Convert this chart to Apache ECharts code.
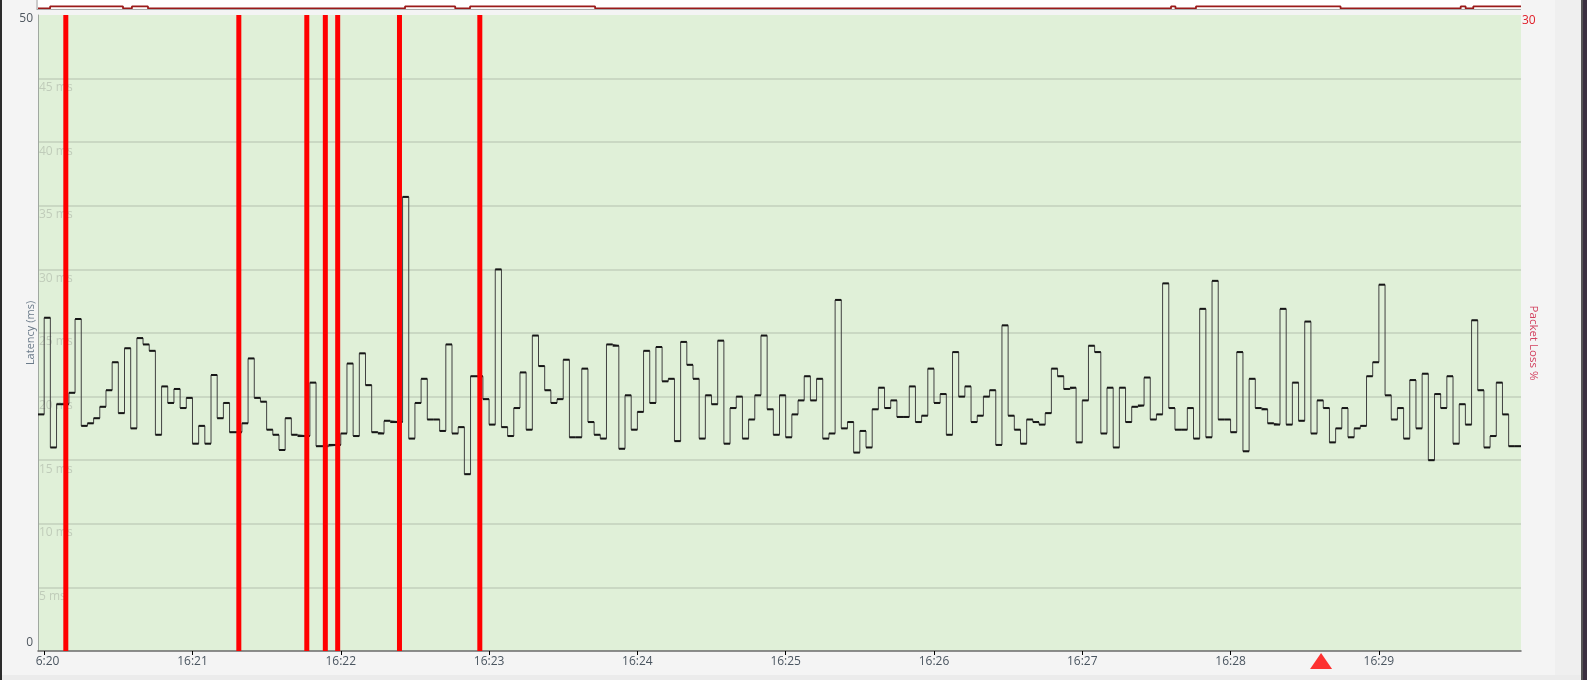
<!DOCTYPE html>
<html>
<head>
<meta charset="utf-8">
<script src="https://cdn.jsdelivr.net/npm/echarts@6/dist/echarts.min.js"></script>
<style>
html,body{margin:0;padding:0;background:#f4f4f4;}
#c{width:1587px;height:680px;}
</style>
</head>
<body>
<div id="c"></div>
<script>
// ---------- data ----------
const day = [2024, 0, 15];
const axisStart = '16:19:57.5';
const axisEnd = '16:29:57.5';
const sampleStart = '16:19:57.5';
const sampleStepSec = 2.5;

// latency per sample (ms); null = lost packet
const latencyMs = [
  18.6, 26.2, 16.0, 19.4, null, 20.3, 26.1, 17.7, 17.9, 18.3,
  19.2, 20.5, 22.7, 18.7, 23.8, 17.5, 24.6, 24.1, 23.6, 17.0,
  20.8, 19.5, 20.6, 19.1, 19.9, 16.3, 17.7, 16.3, 21.7, 18.3,
  19.5, 17.2, null, 17.9, 23.0, 19.9, 19.6, 17.4, 17.0, 15.8,
  18.3,
  17.0, 16.9, null, 21.1, 16.1, null, 16.2, null, 17.1, 22.6,
  16.9, 23.4, 20.9, 17.2, 17.1, 18.1, 18.0, null, 35.7, 16.7,
  19.5, 21.4, 18.2, 18.2, 17.3, 24.1, 17.1, 17.6, 13.9, 21.6,
  null, 19.8, 17.8, 30.0, 17.6, 16.9, 19.1, 21.9, 17.4,
  24.8, 22.4, 20.5, 19.5, 19.8, 22.9, 16.8, 16.8, 22.2, 18.0,
  17.0, 16.7, 24.1, 24.0, 15.9, 20.1, 17.4, 18.8, 23.6, 19.5,
  23.9, 21.2, 21.4, 16.5, 24.3, 22.5, 21.4, 16.7, 20.1, 19.4,
  24.4, 16.3, 19.1, 20.0, 16.7, 18.2, 20.1, 24.8, 19.0, 17.0,
  20.1, 16.8, 18.6, 19.7, 21.6, 19.7,
  21.4, 16.7, 17.1, 27.6, 17.5, 18.0, 15.6, 17.3, 16.0, 19.0,
  20.7, 19.1, 19.7, 18.4, 18.4, 20.8, 18.0, 18.5, 22.2, 19.5,
  20.2, 17.0, 23.5, 20.0, 20.8, 18.0, 18.5, 20.0, 20.5, 16.2,
  25.6, 18.5, 17.4, 16.3, 18.2, 18.0, 17.8, 18.7, 22.2, 21.6,
  20.6, 20.7, 16.4, 19.7, 24.0, 23.5, 17.1,
  20.7, 16.0, 20.7, 18.0, 19.2, 19.3, 21.5, 18.2, 18.6, 28.9,
  19.1, 17.4, 17.4, 19.1, 16.7, 26.9, 16.8, 29.1, 18.2, 18.2,
  17.2, 23.5, 15.7, 21.4, 19.1, 19.0, 17.9, 17.8, 26.9, 17.8,
  21.1, 18.1, 25.9, 17.1, 19.7, 19.1, 16.4, 17.5, 19.1, 16.8,
  17.5, 17.7, 21.6, 22.7, 28.8, 20.1, 18.2, 19.1, 16.7, 21.3,
  17.5, 21.8, 15.0, 20.2, 19.1, 21.6, 16.3, 19.4, 17.8, 26.0,
  20.5, 16.0, 16.9, 21.1, 18.6, 16.1, 16.1
];

// packet loss events (sample index) and loss %
const lossSamples = [4, 32, 43, 46, 48, 58, 71];
const lossPercent = [100, 100, 100, 100, 100, 100, 100];

// overview strip (top): step levels, 0 = normal, 1 = raised
const overviewTimes  = ['16:19:57.5','16:20:02.4','16:20:31.9','16:20:35.5','16:20:42.0','16:22:26.0','16:22:46.3','16:22:52.3','16:23:42.9','16:27:35.9','16:27:37.7','16:27:46.0','16:28:44.5','16:29:33.1','16:29:35.1','16:29:38.2','16:29:57.5'];
const overviewLevels = [0,1,0,1,0,1,0,1,0,1,0,1,0,1,0,1,1];

const markerTime = '16:28:36.6';

// ---------- helpers ----------
function t(str){
  const p = str.split(':');
  const s = parseFloat(p[2]);
  return new Date(day[0], day[1], day[2], +p[0], +p[1], Math.floor(s), Math.round((s - Math.floor(s))*1000)).getTime();
}
const pad = n => (n < 10 ? '0' : '') + n;
const t0 = t(sampleStart), stepMs = sampleStepSec*1000;
const xMin = t(axisStart), xMax = t(axisEnd);

const lineData = latencyMs.map((v,i) => [t0 + i*stepMs, v]);
lineData.push([xMax, latencyMs[latencyMs.length-1]]);

// horizontal segment of each sample: [start, end, value] (extends over lost samples)
const segData = [];
latencyMs.forEach((v,i) => {
  if (v === null) return;
  let j = i + 1;
  while (j < latencyMs.length && latencyMs[j] === null) j++;
  const end = j >= latencyMs.length ? xMax : t0 + j*stepMs;
  segData.push([t0 + i*stepMs, end, v]);
});

const lossData = lossSamples.map((k,i) => [t0 + k*stepMs + stepMs/2, lossPercent[i]]);
const ovData = overviewTimes.map((s,i) => [t(s), overviewLevels[i]]);

const chart = echarts.init(document.getElementById('c'), null, {renderer:'canvas'});
const font = '"Open Sans","Noto Sans",sans-serif';

chart.setOption({
  backgroundColor: '#f4f4f4',
  animation: false,
  textStyle: {fontFamily: font},
  grid: [
    {left: 38, right: 66, top: 15, bottom: 29, show: true, backgroundColor: '#e0f0d8', borderWidth: 0, containLabel: false, outerBoundsMode: 'none'},
    {left: 38, right: 66, top: 0, height: 8.5, show: true, backgroundColor: '#ffffff', borderWidth: 0, containLabel: false, outerBoundsMode: 'none'}
  ],
  xAxis: [
    {
      type: 'time', gridIndex: 0, min: xMin, max: xMax,
      minInterval: 60000, maxInterval: 60000,
      axisLine: {show: true, lineStyle: {color: '#6a6a6a', width: 1.5}},
      axisTick: {show: true, length: 4, lineStyle: {color: '#000'}},
      splitLine: {show: false},
      axisLabel: {
        color: '#4a5560', fontSize: 12, margin: 5, fontFamily: font,
        formatter: v => { const d = new Date(v); return pad(d.getHours()) + ':' + pad(d.getMinutes()); }
      }
    },
    {type: 'time', gridIndex: 1, min: xMin, max: xMax, show: false}
  ],
  yAxis: [
    {
      type: 'value', gridIndex: 0, min: 0, max: 50, interval: 5, position: 'left',
      name: 'Latency (ms)', nameLocation: 'middle', nameRotate: 90, nameGap: 2, nameMoveOverlap: false,
      nameTextStyle: {color: '#6b7b8a', fontSize: 11, fontFamily: font},
      axisLine: {show: true, lineStyle: {color: '#a0a8a0', width: 1}},
      axisTick: {show: false},
      splitLine: {show: true, showMinLine: false, showMaxLine: false, lineStyle: {color: '#cad8c3', width: 2}},
      axisLabel: {
        color: '#505860', fontSize: 12, margin: 5, fontFamily: font,
        formatter: v => v === 0 ? '{lo|0}' : (v === 50 ? '{hi|50}' : ''),
        rich: {lo: {padding: [0,0,17,0], fontSize: 12, color: '#505860'}, hi: {padding: [7,0,0,0], fontSize: 12, color: '#505860'}}
      }
    },
    {
      type: 'value', gridIndex: 0, min: 0, max: 50, interval: 5, position: 'left',
      axisLine: {show: false}, axisTick: {show: false}, splitLine: {show: false},
      axisLabel: {
        inside: true, margin: 1, color: '#c0ccba', fontSize: 12, fontFamily: font,
        verticalAlign: 'top', padding: [3,0,0,0],
        formatter: v => (v > 0 && v < 50) ? v + ' ms' : ''
      }
    },
    {
      type: 'value', gridIndex: 0, min: 0, max: 30, interval: 30, position: 'right',
      name: 'Packet Loss %', nameLocation: 'middle', nameRotate: -90, nameGap: 6, nameMoveOverlap: false,
      nameTextStyle: {color: '#d2405e', fontSize: 11.5, fontFamily: font, padding: [18,0,0,20]},
      axisLine: {show: false}, axisTick: {show: false}, splitLine: {show: false},
      axisLabel: {
        margin: 1, color: '#e0202a', fontSize: 12, fontFamily: font,
        formatter: v => v === 30 ? '{hi|30}' : '',
        rich: {hi: {padding: [11,0,0,0], fontSize: 12, color: '#e0202a'}}
      }
    },
    {type: 'value', gridIndex: 1, min: 0, max: 4, show: false}
  ],
  series: [
    {
      name: 'latency', type: 'line', xAxisIndex: 0, yAxisIndex: 0,
      data: lineData, step: 'end', connectNulls: true, showSymbol: false, symbol: 'none',
      lineStyle: {color: '#404040', width: 1}, z: 2
    },
    {
      name: 'latencyLevels', type: 'custom', xAxisIndex: 0, yAxisIndex: 0,
      data: segData, encode: {x: [0, 1], y: 2}, z: 3, silent: true,
      renderItem: (params, api) => {
        const a = api.coord([api.value(0), api.value(2)]);
        const b = api.coord([api.value(1), api.value(2)]);
        return {type: 'line', shape: {x1: a[0], y1: a[1], x2: b[0], y2: b[1]}, style: {stroke: '#161616', lineWidth: 2}};
      }
    },
    {
      name: 'loss', type: 'custom', xAxisIndex: 0, yAxisIndex: 2,
      data: lossData, encode: {x: 0, y: 1}, z: 4, silent: true,
      renderItem: (params, api) => {
        const cs = params.coordSys;
        const base = api.coord([api.value(0), 0]);
        const top = api.coord([api.value(0), api.value(1)]);
        const y1 = Math.max(top[1], cs.y);
        const w = 5;
        return {type: 'rect', shape: {x: base[0] - w/2, y: y1, width: w, height: base[1] - y1}, style: {fill: '#ff0000'}};
      }
    },
    {
      name: 'marker', type: 'scatter', xAxisIndex: 0, yAxisIndex: 0,
      data: [[t(markerTime), 0]], symbol: 'triangle', symbolSize: [22, 16], symbolOffset: [0, 10],
      clip: false, itemStyle: {color: '#ff0000'}, z: 5
    },
    {
      name: 'overview', type: 'line', xAxisIndex: 1, yAxisIndex: 3,
      data: ovData, step: 'end', showSymbol: false, symbol: 'none',
      lineStyle: {color: '#9a1a1a', width: 1.8}
    }
  ],
  graphic: [
    {type: 'rect', shape: {x: 0, y: 0, width: 2, height: 680}, style: {fill: '#2b2b2b'}, z: 100},
    {type: 'rect', shape: {x: 2, y: 653, width: 34, height: 22}, style: {fill: '#f4f4f4'}, z: 100},
    {type: 'rect', shape: {x: 37, y: 9, width: 1484, height: 1}, style: {fill: '#a8a8a8'}, z: 100},
    {type: 'rect', shape: {x: 36.5, y: 0, width: 1, height: 10}, style: {fill: '#a0a0a0'}, z: 100},
    {type: 'rect', shape: {x: 1555, y: 0, width: 26, height: 680}, style: {fill: '#efefef'}, z: 100},
    {type: 'rect', shape: {x: 1581, y: 0, width: 2, height: 680}, style: {fill: '#555555'}, z: 100},
    {type: 'rect', shape: {x: 1583, y: 0, width: 4, height: 680}, style: {fill: '#3b3040'}, z: 100},
    {type: 'rect', shape: {x: 2, y: 675, width: 1579, height: 5}, style: {fill: '#ebebeb'}, z: 100}
  ]
});
</script>
</body>
</html>
